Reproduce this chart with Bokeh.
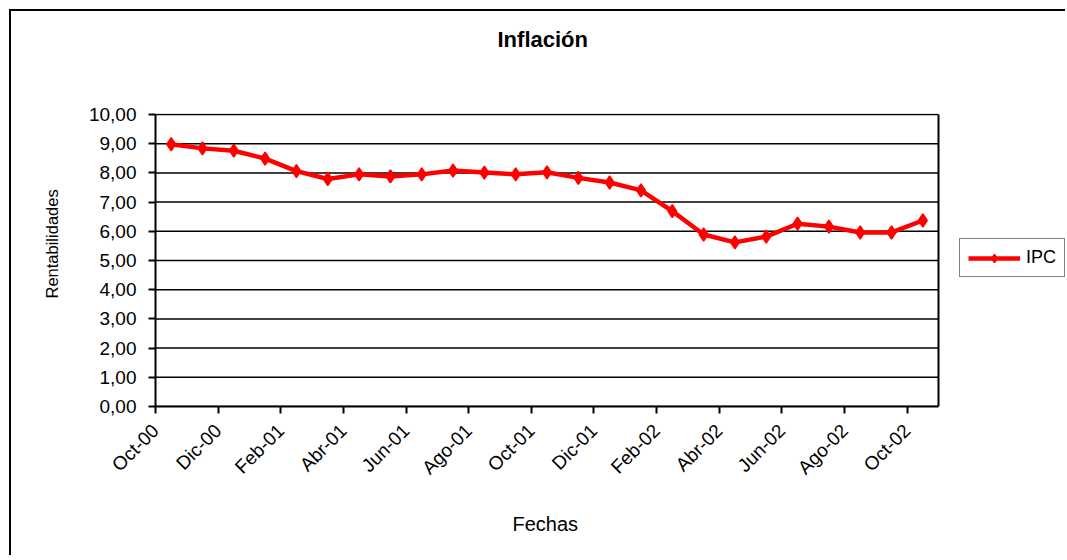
import math
from bokeh.plotting import figure
from bokeh.models import Range1d, FixedTicker, Legend, LegendItem, Title
from bokeh.embed import file_html
from bokeh.resources import INLINE

# ---- data ----
months = ["Oct-00", "Nov-00", "Dic-00", "Ene-01", "Feb-01", "Mar-01", "Abr-01", "May-01",
          "Jun-01", "Jul-01", "Ago-01", "Sep-01", "Oct-01", "Nov-01", "Dic-01", "Ene-02",
          "Feb-02", "Mar-02", "Abr-02", "May-02", "Jun-02", "Jul-02", "Ago-02", "Sep-02",
          "Oct-02"]
ipc = [8.98, 8.84, 8.76, 8.49, 8.06, 7.79, 7.95, 7.88, 7.95, 8.08, 8.01, 7.95, 8.02,
       7.83, 7.67, 7.40, 6.69, 5.89, 5.62, 5.82, 6.26, 6.16, 5.96, 5.96, 6.37]
y_ticks = [0, 1, 2, 3, 4, 5, 6, 7, 8, 9, 10]
y_tick_labels = ["0,00", "1,00", "2,00", "3,00", "4,00", "5,00", "6,00", "7,00", "8,00",
                 "9,00", "10,00"]
title_text = "Inflación"
x_title = "Fechas"
y_title = "Rentabilidades"
series_name = "IPC"

FONT = "Liberation Sans"
xs = list(range(len(months)))

# ---- geometry (canvas pixels) ----
W, H = 1056, 546
PA_LEFT, PA_RIGHT, PA_TOP, PA_BOTTOM = 144, 927, 103, 395     # plot area
x_lo, x_hi = -0.5, len(months) - 0.5
y_lo, y_hi = y_ticks[0], y_ticks[-1]
kx = (PA_RIGHT - PA_LEFT) / (x_hi - x_lo)
ky = (PA_BOTTOM - PA_TOP) / (y_hi - y_lo)

p = figure(width=W, height=H, output_backend="svg", toolbar_location=None,
           x_range=Range1d(x_lo, x_lo + (W - PA_LEFT) / kx),
           y_range=Range1d(y_lo, y_hi + 1 / ky),
           min_border_left=PA_LEFT, min_border_right=0, min_border_top=PA_TOP - 1,
           min_border_bottom=H - PA_BOTTOM, background_fill_color="white",
           border_fill_color="white")
p.styles = {"margin-left": "9px", "margin-top": "9px",
            "border-left": "2px solid black", "border-top": "2px solid black"}
p.outline_line_color = None

# chart title (outer) with a spacer next to the frame
p.title.text = title_text
p.title.align = "left"
p.title.offset = 342
p.title.standoff = 20
p.title.text_font = FONT
p.title.text_font_size = "22px"
p.title.text_font_style = "bold"
p.title.text_color = "black"
p.add_layout(Title(text=" ", text_font_size="1px", standoff=49), "above")

# y axis
p.yaxis.ticker = FixedTicker(ticks=y_ticks)
p.yaxis.bounds = (y_lo, y_hi)
p.yaxis.major_label_overrides = {t: l for t, l in zip(y_ticks, y_tick_labels)}
p.yaxis.major_label_text_font = FONT
p.yaxis.major_label_text_font_size = "19px"
p.yaxis.major_label_text_color = "black"
p.yaxis.major_label_standoff = 12
p.yaxis.major_tick_out = 7
p.yaxis.major_tick_in = 0
p.yaxis.minor_tick_out = 0
p.yaxis.minor_tick_in = 0
p.yaxis.axis_line_width = 2
p.yaxis.major_tick_line_width = 2
p.add_layout(Title(text=y_title, align="left", offset=108, standoff=50,
                   text_font=FONT, text_font_size="16.5px", text_font_style="normal",
                   text_color="black"), "left")

# x axis: labels at every second month boundary
bounds = [i - 0.5 for i in range(0, len(months), 2)]
p.xaxis.ticker = FixedTicker(ticks=bounds)
p.xaxis.bounds = (x_lo, x_hi)
p.xaxis.major_label_overrides = {b: months[i] for b, i in zip(bounds, range(0, len(months), 2))}
p.xaxis.major_label_orientation = math.pi / 4
p.xaxis.major_label_text_font = FONT
p.xaxis.major_label_text_font_size = "19px"
p.xaxis.major_label_text_color = "black"
p.xaxis.major_label_standoff = 14
p.xaxis.major_tick_out = 7
p.xaxis.major_tick_in = 0
p.xaxis.minor_tick_out = 0
p.xaxis.minor_tick_in = 0
p.xaxis.axis_line_width = 2
p.xaxis.major_tick_line_width = 2
p.add_layout(Title(text=x_title, align="left", offset=357, standoff=44,
                   text_font=FONT, text_font_size="20px", text_font_style="normal",
                   text_color="black"), "below")

# grid lines bounded to the plot area, plus its right edge
p.xgrid.grid_line_color = None
p.ygrid.grid_line_color = None
n = len(y_ticks)
p.segment(x0=[x_lo] * n, y0=y_ticks, x1=[x_hi] * n, y1=y_ticks,
          line_color="black", line_width=1.5)
p.line([x_hi, x_hi], [y_lo, y_hi], line_color="black", line_width=2)

# series
ln = p.line(xs, ipc, line_color="red", line_width=4.5)
mk = p.scatter(xs, ipc, marker="diamond", size=13, fill_color="red", line_color="red",
               line_width=1.5)

legend = Legend(items=[LegendItem(label=series_name, renderers=[ln, mk])],
                location=(948 - PA_LEFT, PA_BOTTOM - 266), glyph_width=52,
                glyph_height=20, label_standoff=6, padding=8, margin=0, spacing=0,
                label_text_font=FONT, label_text_font_size="18px",
                label_text_color="black",
                border_line_color="black", border_line_width=1.5,
                background_fill_alpha=1)
p.add_layout(legend, "center")

open("out.html", "w").write(file_html(p, INLINE))
